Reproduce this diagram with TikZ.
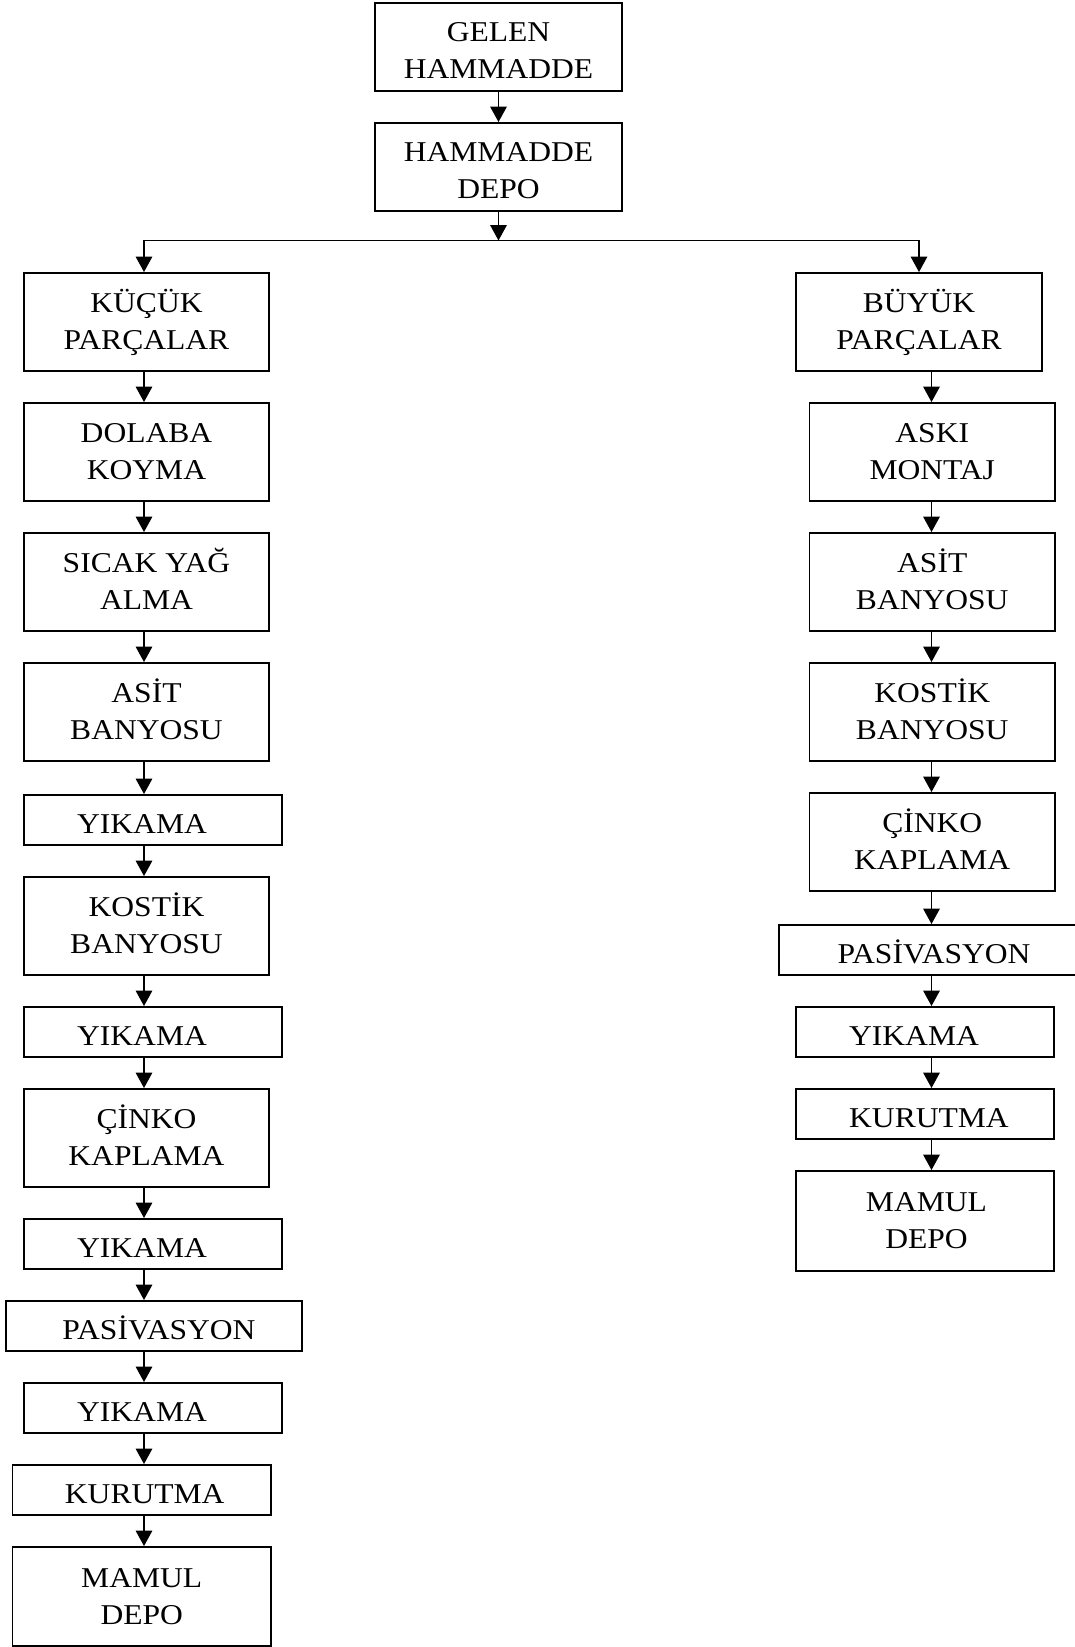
\documentclass[tikz,border=0pt]{standalone}
\usepackage{fontspec}
\setmainfont{Liberation Serif}[FakeStretch=1.1]
\usetikzlibrary{arrows.meta}

% centred label block: #1 horizontal nudge, #2 height of the first row, #3 rows
\newcommand\boxlbl[3]{\hspace*{#1}\begin{tabular}{@{}c@{}}\rule{0pt}{#2}#3\end{tabular}\hspace*{-#1}}

\tikzset{
  stepbox/.style 2 args={draw=black, line width=1.9pt, fill=white, inner sep=0pt,
    minimum width=#1, minimum height=#2,
    font=\fontsize{28.7pt}{37pt}\selectfont},
  flow/.style={draw=black, line width=1.8pt,
    -{Triangle[width=16.5pt,length=15.5pt]}},
  plain/.style={draw=black, line width=1.8pt, line cap=rect},
}

\begin{document}
\begin{tikzpicture}[x=1pt,y=-1pt]
\fill[white] (0,0) rectangle (1075,1647);
\useasboundingbox (0,0) rectangle (1075,1647);

% top of the flow
\node[stepbox={247pt}{88pt}] (gelen) at (498.5,47)  {\boxlbl{0pt}{38pt}{GELEN\\HAMMADDE}};
\node[stepbox={247pt}{88pt}] (hdepo) at (498.5,167) {\boxlbl{0pt}{38pt}{HAMMADDE\\DEPO}};

% small parts line
\node[stepbox={245pt}{98pt}] (kucuk)   at (146.5,322)  {\boxlbl{0pt}{30pt}{KÜÇÜK\\PARÇALAR}};
\node[stepbox={245pt}{98pt}] (dolaba)  at (146.5,452)  {\boxlbl{0pt}{30pt}{DOLABA\\KOYMA}};
\node[stepbox={245pt}{98pt}] (sicak)   at (146.5,582)  {\boxlbl{0pt}{30pt}{SICAK YAĞ\\ALMA}};
\node[stepbox={245pt}{98pt}] (asitL)   at (146.5,712)  {\boxlbl{0pt}{30pt}{ASİT\\BANYOSU}};
\node[stepbox={258pt}{50pt}] (yik1)    at (153,820)    {\boxlbl{-11pt}{38pt}{YIKAMA}};
\node[stepbox={245pt}{98pt}] (kostikL) at (146.5,926)  {\boxlbl{0pt}{30pt}{KOSTİK\\BANYOSU}};
\node[stepbox={258pt}{50pt}] (yik2)    at (153,1032)   {\boxlbl{-11pt}{38pt}{YIKAMA}};
\node[stepbox={245pt}{98pt}] (cinkoL)  at (146.5,1138) {\boxlbl{0pt}{30pt}{ÇİNKO\\KAPLAMA}};
\node[stepbox={258pt}{50pt}] (yik3)    at (153,1244)   {\boxlbl{-11pt}{38pt}{YIKAMA}};
\node[stepbox={296pt}{50pt}] (pasL)    at (154,1326)   {\boxlbl{5pt}{38pt}{PASİVASYON}};
\node[stepbox={258pt}{50pt}] (yik4)    at (153,1408)   {\boxlbl{-11pt}{38pt}{YIKAMA}};
\node[stepbox={258.5pt}{50pt}] (kurL)  at (141.75,1490) {\boxlbl{3pt}{38pt}{KURUTMA}};
\node[stepbox={258.5pt}{99pt}] (mamulL) at (141.75,1596.5) {\boxlbl{0pt}{30pt}{MAMUL\\DEPO}};

% large parts line
\node[stepbox={246pt}{98pt}]   (buyuk)   at (919,322)    {\boxlbl{0pt}{30pt}{BÜYÜK\\PARÇALAR}};
\node[stepbox={245.5pt}{98pt}] (aski)    at (932.25,452) {\boxlbl{0pt}{30pt}{ASKI\\MONTAJ}};
\node[stepbox={245.5pt}{98pt}] (asitR)   at (932.25,582) {\boxlbl{0pt}{30pt}{ASİT\\BANYOSU}};
\node[stepbox={245.5pt}{98pt}] (kostikR) at (932.25,712) {\boxlbl{0pt}{30pt}{KOSTİK\\BANYOSU}};
\node[stepbox={245.5pt}{98pt}] (cinkoR)  at (932.25,842) {\boxlbl{0pt}{30pt}{ÇİNKO\\KAPLAMA}};
\node[stepbox={306pt}{50pt}]   (pasR)    at (932,950)    {\boxlbl{2pt}{38pt}{PASİVASYON}};
\node[stepbox={258pt}{50pt}]   (yikR)    at (925,1032)   {\boxlbl{-11pt}{38pt}{YIKAMA}};
\node[stepbox={258pt}{50pt}]   (kurR)    at (925,1114)   {\boxlbl{4pt}{38pt}{KURUTMA}};
\node[stepbox={258pt}{100pt}]  (mamulR)  at (925,1221)   {\boxlbl{1.5pt}{30pt}{MAMUL\\DEPO}};

% split point and column axes
\coordinate (jn) at (498.5,240.5);
\coordinate (jl) at (144,240.5);
\coordinate (jr) at (919,240.5);
\coordinate (colL) at (144,0);
\coordinate (colR) at (931.5,0);

\draw[flow] (gelen) -- (hdepo);
\draw[flow] (hdepo) -- (jn);
\draw[plain] (jl) -- (jr);
\draw[flow] (jl) -- (kucuk.north -| jl);
\draw[flow] (jr) -- (buyuk.north -| jr);

\foreach \a/\b in {kucuk/dolaba, dolaba/sicak, sicak/asitL, asitL/yik1,
                   yik1/kostikL, kostikL/yik2, yik2/cinkoL, cinkoL/yik3,
                   yik3/pasL, pasL/yik4, yik4/kurL, kurL/mamulL}
  \draw[flow] (\a.south -| colL) -- (\b.north -| colL);

\foreach \a/\b in {buyuk/aski, aski/asitR, asitR/kostikR, kostikR/cinkoR,
                   cinkoR/pasR, pasR/yikR, yikR/kurR, kurR/mamulR}
  \draw[flow] (\a.south -| colR) -- (\b.north -| colR);
\end{tikzpicture}
\end{document}
